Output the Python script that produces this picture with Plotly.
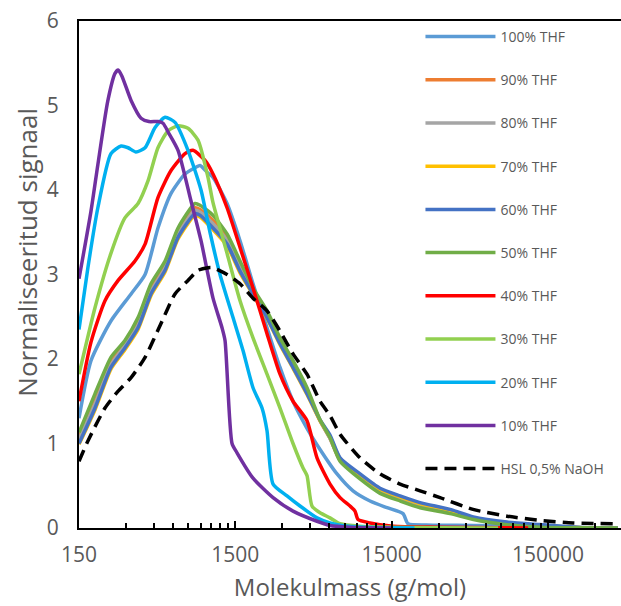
import plotly.graph_objects as go
import math

# ---------------- data ----------------
m_thf100 = [150, 179, 240, 323, 397, 480, 582, 715, 841, 892, 1003, 1080, 1328, 1608, 1947, 2393, 2898, 3510, 4313, 5226, 6713, 8493, 10911, 14019, 17745, 19110, 25000, 50000, 100000, 180000]
v_thf100 = [1.30, 1.98, 2.45, 2.77, 3.00, 3.55, 3.96, 4.19, 4.27, 4.29, 4.20, 4.15, 3.84, 3.40, 2.89, 2.37, 1.90, 1.50, 1.18, 0.93, 0.64, 0.44, 0.32, 0.24, 0.17, 0.05, 0.035, 0.03, 0.02, 0.005]

m_cluster = [150, 190, 240, 295, 358, 433, 533, 645, 828, 892, 1080, 1328, 1608, 1947, 2393, 2898, 3510, 4313, 5226, 6053, 7016, 9417, 12644, 16980, 22800, 35460, 50000, 82000, 133500, 250000, 420000]
v_thf90 = [1.07, 1.50, 1.96, 2.18, 2.43, 2.83, 3.11, 3.50, 3.79, 3.77, 3.64, 3.43, 3.11, 2.80, 2.52, 2.20, 1.93, 1.62, 1.27, 1.06, 0.80, 0.60, 0.44, 0.35, 0.27, 0.20, 0.12, 0.06, 0.02, 0.004, 0.0]
v_thf80 = [1.05, 1.47, 1.93, 2.16, 2.40, 2.80, 3.08, 3.47, 3.76, 3.74, 3.60, 3.40, 3.08, 2.78, 2.50, 2.19, 1.91, 1.60, 1.27, 1.06, 0.81, 0.61, 0.45, 0.36, 0.28, 0.21, 0.12, 0.06, 0.02, 0.004, 0.0]
v_thf70 = [0.99, 1.40, 1.88, 2.11, 2.35, 2.75, 3.03, 3.42, 3.70, 3.68, 3.53, 3.34, 3.02, 2.76, 2.48, 2.17, 1.89, 1.58, 1.27, 1.08, 0.82, 0.63, 0.46, 0.37, 0.29, 0.21, 0.12, 0.06, 0.02, 0.004, 0.0]
v_thf60 = [1.00, 1.42, 1.90, 2.13, 2.37, 2.77, 3.05, 3.44, 3.72, 3.70, 3.55, 3.36, 3.04, 2.77, 2.49, 2.18, 1.90, 1.59, 1.28, 1.10, 0.83, 0.64, 0.47, 0.38, 0.30, 0.22, 0.13, 0.07, 0.04, 0.005, 0.0]
v_thf50 = [1.13, 1.59, 2.02, 2.22, 2.49, 2.89, 3.16, 3.55, 3.84, 3.82, 3.70, 3.48, 3.16, 2.84, 2.57, 2.25, 1.98, 1.66, 1.28, 1.07, 0.79, 0.58, 0.41, 0.32, 0.24, 0.17, 0.10, 0.04, 0.01, 0.003, 0.0]

m_thf40 = [150, 179, 220, 267, 342, 397, 480, 582, 715, 804, 960, 1080, 1328, 1608, 1947, 2393, 2898, 3510, 4313, 4997, 6053, 7016, 8129, 8748, 9143, 10911, 15315, 30000, 112000]
v_thf40 = [1.50, 2.20, 2.69, 2.93, 3.16, 3.36, 3.91, 4.23, 4.43, 4.47, 4.35, 4.19, 3.79, 3.32, 2.84, 2.30, 1.82, 1.50, 1.27, 0.83, 0.52, 0.36, 0.26, 0.20, 0.10, 0.06, 0.02, 0.01, 0.0]

m_thf30 = [150, 190, 240, 295, 358, 415, 480, 557, 645, 747, 866, 1003, 1080, 1328, 1608, 1947, 2393, 2898, 3510, 4067, 4313, 4643, 5226, 6053, 7016, 9400, 15000, 30000, 72000]
v_thf30 = [1.82, 2.61, 3.25, 3.67, 3.84, 4.11, 4.50, 4.70, 4.76, 4.73, 4.59, 4.15, 3.85, 3.25, 2.69, 2.25, 1.82, 1.42, 1.00, 0.71, 0.62, 0.26, 0.18, 0.12, 0.05, 0.02, 0.01, 0.003, 0.0]

m_thf20 = [150, 171, 198, 240, 279, 309, 347, 397, 460, 533, 617, 747, 905, 1033, 1197, 1450, 1680, 1947, 2223, 2393, 2615, 3213, 3891, 4997, 6053, 8000, 12000, 21000]
v_thf20 = [2.35, 3.08, 3.79, 4.43, 4.52, 4.50, 4.45, 4.50, 4.74, 4.86, 4.80, 4.47, 4.00, 3.50, 3.00, 2.49, 2.10, 1.66, 1.42, 1.15, 0.52, 0.38, 0.26, 0.12, 0.06, 0.02, 0.005, 0.0]

m_thf10 = [150, 179, 198, 229, 255, 267, 282, 323, 374, 420, 480, 517, 560, 645, 781, 905, 1080, 1233, 1289, 1429, 1538, 1947, 2615, 3510, 4997, 6053, 8000, 15000]
v_thf10 = [2.95, 3.75, 4.30, 5.05, 5.38, 5.42, 5.35, 5.06, 4.85, 4.81, 4.81, 4.79, 4.68, 4.47, 3.87, 3.40, 2.72, 2.37, 2.22, 1.00, 0.89, 0.59, 0.36, 0.20, 0.08, 0.03, 0.01, 0.0]

m_hsl = [150, 171, 220, 267, 323, 397, 502, 617, 747, 866, 1003, 1080, 1328, 1608, 1947, 2393, 2898, 3510, 4313, 5226, 6053, 7016, 9417, 12644, 16980, 22800, 30600, 49755, 82110, 133545, 217050, 391350, 430000]
v_hsl = [0.79, 1.03, 1.42, 1.62, 1.78, 2.02, 2.42, 2.77, 2.93, 3.05, 3.08, 3.08, 3.00, 2.89, 2.72, 2.57, 2.33, 2.06, 1.82, 1.50, 1.33, 1.11, 0.83, 0.64, 0.52, 0.44, 0.36, 0.22, 0.14, 0.09, 0.06, 0.05, 0.045]

x_tick_vals = [150, 1500, 15000, 150000]
x_tick_text = ["150", "1500", "15000", "150000"]
x_minor_vals = [300, 450, 600, 750, 900, 1050, 1200, 1350,
                3000, 4500, 6000, 7500, 9000, 10500, 12000, 13500,
                30000, 45000, 60000, 75000, 90000, 105000, 120000, 135000,
                300000]
y_tick_vals = [0, 1, 2, 3, 4, 5, 6]

series = [
    ("100% THF", m_thf100, v_thf100, "#5B9BD5", "solid"),
    ("90% THF", m_cluster, v_thf90, "#ED7D31", "solid"),
    ("80% THF", m_cluster, v_thf80, "#A5A5A5", "solid"),
    ("70% THF", m_cluster, v_thf70, "#FFC000", "solid"),
    ("60% THF", m_cluster, v_thf60, "#4472C4", "solid"),
    ("50% THF", m_cluster, v_thf50, "#70AD47", "solid"),
    ("40% THF", m_thf40, v_thf40, "#FF0000", "solid"),
    ("30% THF", m_thf30, v_thf30, "#92D050", "solid"),
    ("20% THF", m_thf20, v_thf20, "#00B0F0", "solid"),
    ("10% THF", m_thf10, v_thf10, "#7030A0", "solid"),
    ("HSL 0,5% NaOH", m_hsl, v_hsl, "#000000", "12px,7px"),
]

fig = go.Figure()
for i, (name, xs, ys, color, dash) in enumerate(series):
    fig.add_trace(go.Scatter(
        x=xs, y=ys, name=name, mode="lines",
        line=dict(color=color, width=3.5, dash=dash, shape="spline", smoothing=0.6),
        legendgroup=f"g{i}",
    ))

TEXT = "#595959"
fig.update_layout(
    width=621, height=606,
    margin=dict(l=79, r=0, t=21, b=78),
    plot_bgcolor="white", paper_bgcolor="white",
    font=dict(family="Open Sans", color=TEXT),
    showlegend=True,
    legend=dict(x=0.63, y=1.0, xanchor="left", yanchor="top",
                bgcolor="rgba(0,0,0,0)", font=dict(size=14, color=TEXT),
                tracegroupgap=22, itemwidth=70),
    xaxis=dict(
        type="log", range=[math.log10(150), math.log10(440000)],
        automargin=False,
        tickvals=x_tick_vals, ticktext=x_tick_text,
        ticks="inside", ticklen=7, tickwidth=1.5, tickcolor="black",
        minor=dict(tickvals=x_minor_vals, ticks="inside", ticklen=5, tickwidth=1.5, tickcolor="black", showgrid=False),
        showline=True, linecolor="black", linewidth=2, mirror=True,
        showgrid=False, zeroline=False,
        tickfont=dict(size=21, color=TEXT),
        ticklabelstandoff=7,
        title=dict(text="Molekulmass (g/mol)", font=dict(size=24, color=TEXT), standoff=12),
    ),
    yaxis=dict(
        range=[0, 6], tickvals=y_tick_vals, automargin=False,
        ticks="", showline=True, linecolor="black", linewidth=2,
        showgrid=False, zeroline=False,
        tickfont=dict(size=21, color=TEXT),
        ticklabelstandoff=14,
    ),
    annotations=[dict(text="Normaliseeritud signaal", xref="paper", yref="paper",
                      x=-0.096, y=0.545, xanchor="center", yanchor="middle",
                      textangle=-90, showarrow=False,
                      font=dict(size=26, color=TEXT))],
)

fig.write_html("out.html", config={"displayModeBar": False},
               post_script="document.body.style.margin='0';document.body.style.padding='0';")
